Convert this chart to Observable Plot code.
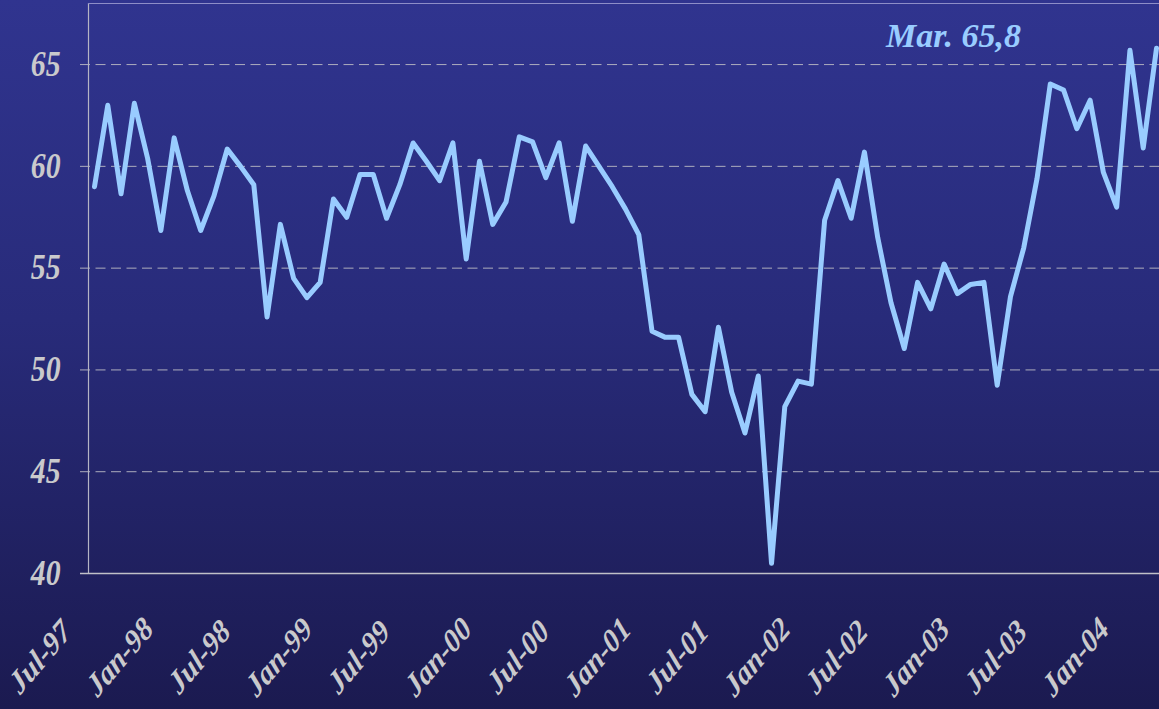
<!DOCTYPE html>
<html><head><meta charset="utf-8">
<script src="https://cdn.jsdelivr.net/npm/d3@7"></script>
<script src="https://cdn.jsdelivr.net/npm/@observablehq/plot@0.6"></script>
<style>
html,body{margin:0;padding:0;width:1159px;height:709px;overflow:hidden;
background:linear-gradient(to bottom,#30348f 0%,#282b7a 45%,#1b1a50 100%);}
#chart svg{display:block;background:transparent;}
</style></head><body><div id="chart"></div>
<script>
// Monthly values, Jul-97 .. Mar-04
const values = [
  59.0, 63.0, 58.65, 63.1, 60.4, 56.85, 61.4, 58.8, 56.85, 58.55, 60.85, 60.0,
  59.1, 52.6, 57.15, 54.5, 53.55, 54.3, 58.4, 57.5, 59.6, 59.6, 57.45, 59.1,
  61.15, 60.25, 59.3, 61.15, 55.45, 60.25, 57.15, 58.25, 61.45, 61.2, 59.45, 61.15,
  57.3, 61.0, 60.0, 59.0, 57.9, 56.65, 51.9, 51.6, 51.6, 48.8, 47.95, 52.1,
  48.9, 46.9, 49.7, 40.5, 48.2, 49.45, 49.3, 57.35, 59.3, 57.45, 60.7, 56.5,
  53.3, 51.05, 54.3, 53.0, 55.2, 53.75, 54.2, 54.3, 49.25, 53.6, 56.0, 59.4,
  64.05, 63.75, 61.85, 63.25, 59.7, 58.0, 65.7, 60.9, 65.8
];
const tickLabels = ["Jul-97","Jan-98","Jul-98","Jan-99","Jul-99","Jan-00","Jul-00",
  "Jan-01","Jul-01","Jan-02","Jul-02","Jan-03","Jul-03","Jan-04"];
const tickStep = 6;
const yTicks = [40, 45, 50, 55, 60, 65];
const gridValues = [45, 50, 55, 60, 65];
const yDomain = [40, 68];
const xDomain = [-0.452, 80.226];
const annotation = "Mar. 65,8";

const font = "'Liberation Serif','Times New Roman',serif";
const data = values.map((v, i) => ({i, v}));
const tickData = tickLabels.map((t, k) => ({i: k * tickStep, t}));

const chart = Plot.plot({
  width: 1159, height: 709,
  marginLeft: 88, marginRight: 0, marginTop: 3, marginBottom: 136,
  style: {background: "transparent", color: "#c8c8cc"},
  x: {type: "linear", domain: xDomain, axis: null},
  y: {domain: yDomain, axis: null},
  marks: [
    Plot.ruleY(gridValues, {stroke: "#adadbd", strokeWidth: 1, strokeDasharray: "10,5.5", insetLeft: -8}),
    Plot.ruleX([xDomain[0]], {stroke: "#b4b4c4", strokeWidth: 1.2}),
    Plot.ruleY([yDomain[1]], {stroke: "#8e8ec8", strokeWidth: 1.2}),
    Plot.ruleY([yDomain[0]], {stroke: "#c0c0c8", strokeWidth: 1.5, insetLeft: -8}),
    Plot.line(data, {x: "i", y: "v", stroke: "#99ccff", strokeWidth: 5, strokeLinejoin: "round", strokeLinecap: "round"}),
    Plot.axisY(yTicks, {tickSize: 0, tickPadding: 28, fontSize: 35, fontStyle: "italic", fontWeight: "bold",
      fontFamily: font, fill: "#c9c9cc", label: null}),
    Plot.text(tickData, {x: "i", frameAnchor: "bottom", text: "t", rotate: -45, dx: -48, dy: 91,
      textAnchor: "middle", fontSize: 33, fontStyle: "italic", fontWeight: "bold", fontFamily: font, fill: "#c9c9cc"}),
    Plot.text([annotation], {frameAnchor: "top-right", textAnchor: "middle", lineAnchor: "bottom", dx: -206, dy: 43,
      fontSize: 34, fontStyle: "italic", fontWeight: "bold", fontFamily: font, fill: "#99ccff"})
  ]
});
document.getElementById("chart").appendChild(chart);

// Horizontally condensed lettering, as in the reference
const squeeze = "scale(0.85,1)";
function condense(sel) {
  sel.each(function() {
    const t = this.getAttribute("transform") || "";
    if (t.includes("rotate")) this.setAttribute("transform", t.replace("rotate", squeeze + " rotate"));
    else this.setAttribute("transform", (t + " " + squeeze).trim());
  });
}
const svg = d3.select(chart);
condense(svg.selectAll('g[aria-label="y-axis tick label"] text'));
const textGroups = svg.selectAll('g[aria-label="text"]').nodes();
if (textGroups.length) condense(d3.select(textGroups[0]).selectAll("text"));
</script></body></html>
